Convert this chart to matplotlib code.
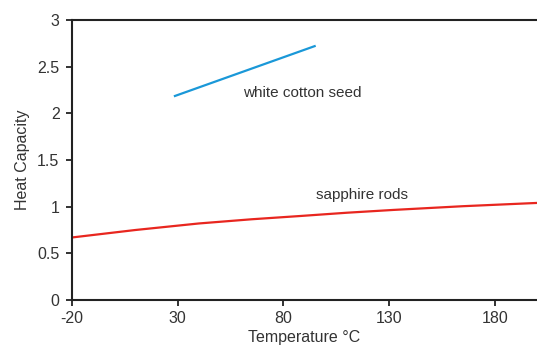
import matplotlib
matplotlib.use("Agg")
import matplotlib.pyplot as plt

# data
sapphire_temp = [-20, 10, 40, 65, 88, 110, 132, 165, 200]
sapphire_cp = [0.67, 0.75, 0.82, 0.865, 0.90, 0.935, 0.965, 1.005, 1.04]
cotton_temp = [28.7, 94.8]
cotton_cp = [2.186, 2.72]

x_ticks = [-20, 30, 80, 130, 180]
y_ticks = [0, 0.5, 1, 1.5, 2, 2.5, 3]
y_tick_labels = ["0", "0.5", "1", "1.5", "2", "2.5", "3"]

plt.rcParams["font.family"] = ["Liberation Sans Narrow", "Liberation Sans", "DejaVu Sans"]
plt.rcParams["axes.unicode_minus"] = False
TEXT = "#333333"

fig = plt.figure(figsize=(5.37, 3.47), dpi=100)
ax = fig.add_axes([72 / 537, 47 / 347, 1 - 72 / 537, 280 / 347])

ax.plot(sapphire_temp, sapphire_cp, color="#e8261f", linewidth=1.6)
ax.plot(cotton_temp, cotton_cp, color="#1a98d8", linewidth=1.6)

ax.text(89, 2.22, "white cotton seed", ha="center", va="center", fontsize=11, color=TEXT)
ax.text(117, 1.12, "sapphire rods", ha="center", va="center", fontsize=11, color=TEXT)

ax.set_xlim(-20, 200)
ax.set_ylim(0, 3)
ax.set_xticks(x_ticks)
ax.set_yticks(y_ticks)
ax.set_yticklabels(y_tick_labels)
ax.tick_params(direction="out", length=4, width=1.3, colors="#222222",
               labelcolor=TEXT, labelsize=11.5)
ax.tick_params(axis="x", pad=4)
ax.tick_params(axis="y", pad=5)
ax.set_xlabel("Temperature °C", fontsize=11.5, color=TEXT, labelpad=3)
ax.set_ylabel("Heat Capacity", fontsize=11.5, color=TEXT, labelpad=5)

for side in ["left", "bottom", "top"]:
    ax.spines[side].set_linewidth(1.5)
    ax.spines[side].set_color("#222222")
ax.spines["right"].set_visible(False)

fig.savefig("out.png", dpi=100)
